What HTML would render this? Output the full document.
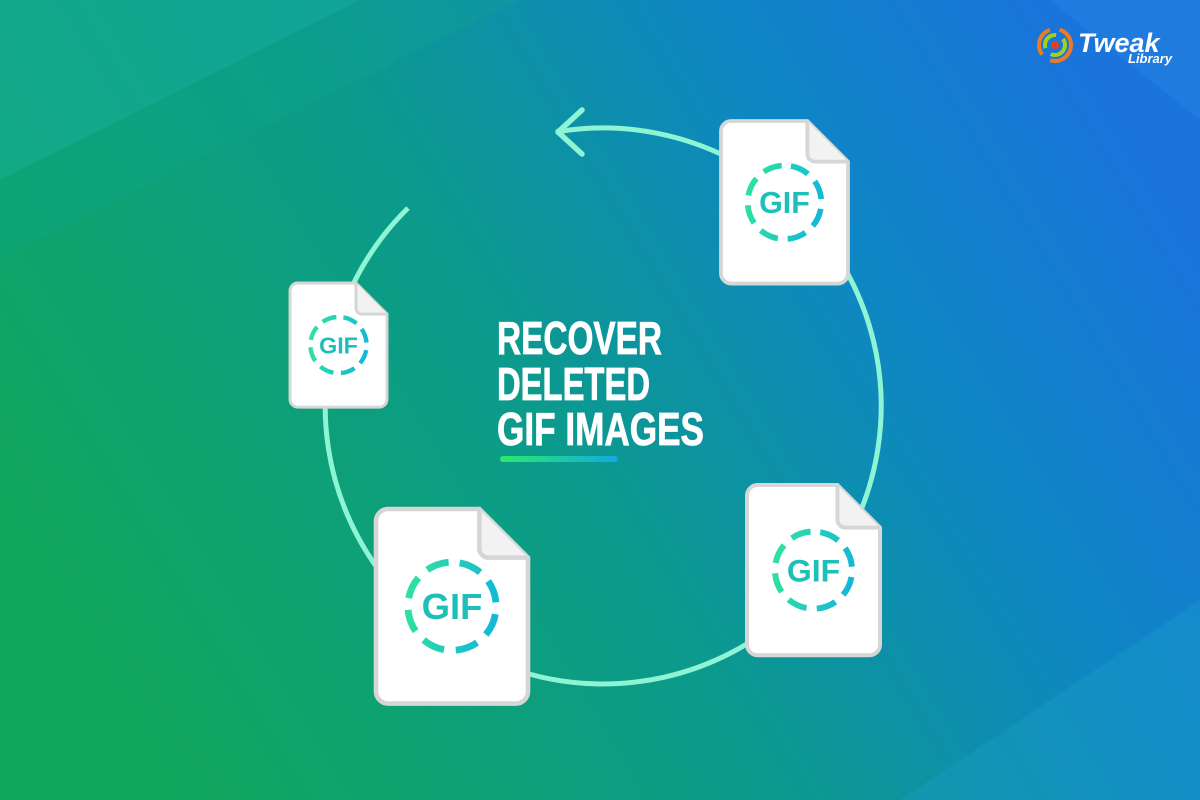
<!DOCTYPE html>
<html><head><meta charset="utf-8"><style>html,body{margin:0;padding:0;width:1200px;height:800px;overflow:hidden}</style></head>
<body>
<svg width="1200" height="800" viewBox="0 0 1200 800" xmlns="http://www.w3.org/2000/svg">
<defs>
<linearGradient id="bg" x1="0" y1="0.7" x2="1" y2="0.3">
<stop offset="0" stop-color="#10a85a"/>
<stop offset="0.45" stop-color="#0c9a8c"/>
<stop offset="0.75" stop-color="#0e86c4"/>
<stop offset="1" stop-color="#1a74dc"/>
</linearGradient>
<linearGradient id="ring" x1="0" y1="0" x2="0" y2="1">
<stop offset="0" stop-color="#2fe0a0"/>
<stop offset="1" stop-color="#14b8d8"/>
</linearGradient>
<linearGradient id="bar" x1="0" y1="0" x2="1" y2="0">
<stop offset="0" stop-color="#2ee86a"/>
<stop offset="1" stop-color="#12a8e0"/>
</linearGradient>
</defs>
<rect width="1200" height="800" fill="url(#bg)"/>
<polygon points="0,0 360,0 0,180" fill="#16b0a0" opacity="0.5"/>
<polygon points="0,180 360,0 520,0 0,260" fill="#10a890" opacity="0.25"/>
<polygon points="900,800 1200,600 1200,800" fill="#1aa0c8" opacity="0.35"/>
<polygon points="1050,0 1200,0 1200,120" fill="#2a8ae6" opacity="0.3"/>

<path d="M556,132 A278,278 0 1 1 408,208" fill="none" stroke="#8ef5d4" stroke-width="5"/>
<polyline points="582,110 558,132 582,154" fill="none" stroke="#8ef5d4" stroke-width="5.5" stroke-linecap="round" stroke-linejoin="round"/>

<g font-family="'Liberation Sans', sans-serif" font-weight="bold">
<g transform="translate(721,121) scale(1.27)">
<path d="M8,0 H68 L100,32 V120 a8,8 0 0 1 -8,8 H8 a8,8 0 0 1 -8,-8 V8 a8,8 0 0 1 8,-8 Z" fill="#fff" stroke="#d6d6d6" stroke-width="3"/>
<path d="M68,0 V26 a6,6 0 0 0 6,6 H100" fill="#f2f2f2" stroke="#d6d6d6" stroke-width="3"/>
<circle cx="50" cy="64" r="29" fill="none" stroke="url(#ring)" stroke-width="4.5" stroke-dasharray="15 7.8" transform="rotate(-80 50 64)"/>
<text x="50" y="72.5" font-size="24" text-anchor="middle" fill="#1cc0b8">GIF</text>
</g>
<g transform="translate(290,283) scale(0.97)">
<path d="M8,0 H68 L100,32 V120 a8,8 0 0 1 -8,8 H8 a8,8 0 0 1 -8,-8 V8 a8,8 0 0 1 8,-8 Z" fill="#fff" stroke="#d6d6d6" stroke-width="3"/>
<path d="M68,0 V26 a6,6 0 0 0 6,6 H100" fill="#f2f2f2" stroke="#d6d6d6" stroke-width="3"/>
<circle cx="50" cy="64" r="29" fill="none" stroke="url(#ring)" stroke-width="4.5" stroke-dasharray="15 7.8" transform="rotate(-80 50 64)"/>
<text x="50" y="72.5" font-size="24" text-anchor="middle" fill="#1cc0b8">GIF</text>
</g>
<g transform="translate(376,509) scale(1.52)">
<path d="M8,0 H68 L100,32 V120 a8,8 0 0 1 -8,8 H8 a8,8 0 0 1 -8,-8 V8 a8,8 0 0 1 8,-8 Z" fill="#fff" stroke="#d6d6d6" stroke-width="3"/>
<path d="M68,0 V26 a6,6 0 0 0 6,6 H100" fill="#f2f2f2" stroke="#d6d6d6" stroke-width="3"/>
<circle cx="50" cy="64" r="29" fill="none" stroke="url(#ring)" stroke-width="4.5" stroke-dasharray="15 7.8" transform="rotate(-80 50 64)"/>
<text x="50" y="72.5" font-size="24" text-anchor="middle" fill="#1cc0b8">GIF</text>
</g>
<g transform="translate(747,485) scale(1.33)">
<path d="M8,0 H68 L100,32 V120 a8,8 0 0 1 -8,8 H8 a8,8 0 0 1 -8,-8 V8 a8,8 0 0 1 8,-8 Z" fill="#fff" stroke="#d6d6d6" stroke-width="3"/>
<path d="M68,0 V26 a6,6 0 0 0 6,6 H100" fill="#f2f2f2" stroke="#d6d6d6" stroke-width="3"/>
<circle cx="50" cy="64" r="29" fill="none" stroke="url(#ring)" stroke-width="4.5" stroke-dasharray="15 7.8" transform="rotate(-80 50 64)"/>
<text x="50" y="72.5" font-size="24" text-anchor="middle" fill="#1cc0b8">GIF</text>
</g>
</g>

<g font-family="'Liberation Sans Narrow','Liberation Sans', sans-serif" font-weight="bold" fill="#fff" font-size="46" stroke="#fff" stroke-width="0.8">
<text x="497" y="354" textLength="165" lengthAdjust="spacingAndGlyphs">RECOVER</text>
<text x="497" y="400" textLength="153" lengthAdjust="spacingAndGlyphs">DELETED</text>
<text x="497" y="445" textLength="207" lengthAdjust="spacingAndGlyphs">GIF IMAGES</text>
</g>
<rect x="500" y="456" width="118" height="6" rx="3" fill="url(#bar)"/>

<g transform="translate(1055,45)">
<circle r="16" fill="none" stroke="#f07a20" stroke-width="4" stroke-dasharray="30 10"/>
<circle r="10" fill="none" stroke="#a0d020" stroke-width="4" stroke-dasharray="20 8"/>
<circle r="4" fill="#e04020"/>
</g>
<text x="1078" y="52" font-family="'Liberation Sans', sans-serif" font-weight="bold" font-style="italic" font-size="27" fill="#fff">Tweak</text>
<text x="1128" y="63" font-family="'Liberation Sans', sans-serif" font-weight="bold" font-style="italic" font-size="13" fill="#fff">Library</text>
</svg>
</body></html>
